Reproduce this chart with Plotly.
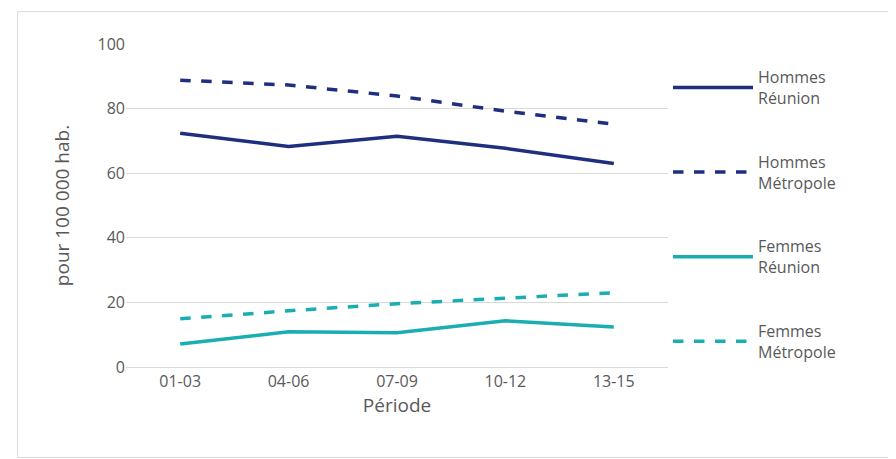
import plotly.graph_objects as go

periods = ["01-03", "04-06", "07-09", "10-12", "13-15"]
hommes_reunion = [72.4, 68.3, 71.4, 67.7, 63.0]
hommes_metro = [88.8, 87.3, 83.9, 79.2, 75.2]
femmes_reunion = [7.1, 10.9, 10.6, 14.3, 12.4]
femmes_metro = [14.9, 17.4, 19.6, 21.4, 23.0]

navy = "#1f2f7f"
teal = "#1aaeb2"
fig = go.Figure()
for i, (name, vals, col, dash) in enumerate([
    ("Hommes<br>Réunion", hommes_reunion, navy, "solid"),
    ("Hommes<br>Métropole", hommes_metro, navy, "dash"),
    ("Femmes<br>Réunion", femmes_reunion, teal, "solid"),
    ("Femmes<br>Métropole", femmes_metro, teal, "dash"),
]):
    fig.add_trace(go.Scatter(x=periods, y=vals, name=name, mode="lines", legendgroup=f"g{i}",
                             line=dict(color=col, width=3.5, dash=dash)))

fig.update_layout(
    width=896, height=459, paper_bgcolor="white", plot_bgcolor="white",
    font=dict(family="Open Sans", size=16, color="#595959"),
    margin=dict(l=118, r=236, t=36, b=100),
    legend=dict(x=1.0, y=0.95, yanchor="top", itemwidth=80,
                tracegroupgap=40, font=dict(size=16, color="#595959")),
    yaxis=dict(range=[0, 100], dtick=20, showgrid=True, gridcolor="#d9d9d9",
               zeroline=False, ticks="", title=dict(text="pour 100 000 hab.", standoff=22),
               showline=False),
    xaxis=dict(type="category", range=[-0.5, 4.5], showgrid=False, showline=True,
               linecolor="#d9d9d9", title=dict(text="Période", standoff=6)),
    shapes=[dict(type="rect", xref="paper", yref="paper", x0=-0.2, x1=1.415,
                 y0=-0.28, y1=1.1, line=dict(color="#d9d9d9", width=1))],
)
fig.write_html("out.html")
